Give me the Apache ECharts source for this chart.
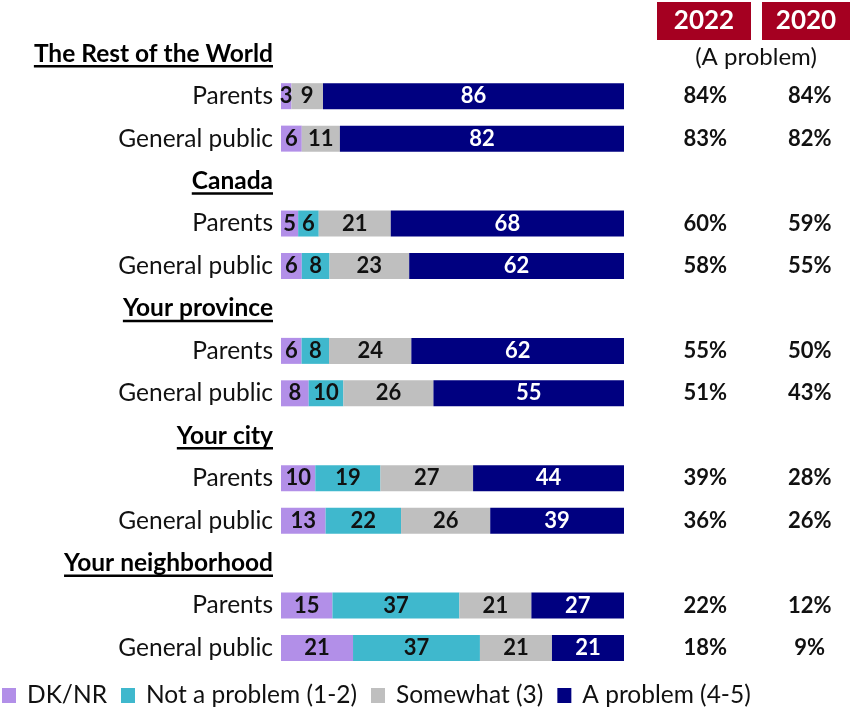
<!DOCTYPE html>
<html><head><meta charset="utf-8">
<script src="https://cdn.jsdelivr.net/npm/echarts@6/dist/echarts.min.js"></script>
<style>html,body{margin:0;padding:0;background:#fff}#chart{width:856px;height:713px}</style>
</head><body><div id="chart"></div>
<script>
// Survey groups, each with a "Parents" and a "General public" row
const groups = ['The Rest of the World', 'Canada', 'Your province', 'Your city', 'Your neighborhood'];
const audiences = ['Parents', 'General public'];

// Stacked shares (%) per row, in group order: Parents, General public
const dkNr       = [3, 6,   5, 6,   6, 8,   10, 13,  15, 21];
const notProblem = [0, 0,   6, 8,   8, 10,  19, 22,  37, 37];
const somewhat   = [9, 11,  21, 23, 24, 26, 27, 26,  21, 21];
const aProblem   = [86, 82, 68, 62, 62, 55, 44, 39,  27, 21];

// "A problem" share by survey year
const problem2022 = [84, 83, 60, 58, 55, 51, 39, 36, 22, 18];
const problem2020 = [84, 82, 59, 55, 50, 43, 28, 26, 12, 9];

const seriesNames = ['DK/NR', 'Not a problem (1-2)', 'Somewhat (3)', 'A problem (4-5)'];
const seriesColors = ['#b28fe8', '#3fb8cd', '#bfbfbf', '#000080'];
const yearHeaders = ['2022', '2020'];
const subHeader = '(A problem)';

const FONT = 'Lato, "Open Sans", sans-serif';

// Flatten into rows: a heading row followed by the two audience rows
const rows = [];
groups.forEach((g, gi) => {
  rows.push({ type: 'head', text: g });
  audiences.forEach((a, ai) => rows.push({ type: 'row', text: a, idx: gi * 2 + ai }));
});
const rowKeys = rows.map((r, i) => 'row' + i);

const valueSets = [dkNr, notProblem, somewhat, aProblem];

// 100% stacked: each row is scaled to its own total
function seriesData(values) {
  return rows.map(r => {
    if (r.type === 'head') return '-';
    const i = r.idx;
    const total = dkNr[i] + notProblem[i] + somewhat[i] + aProblem[i];
    return { value: values[i] / total * 100, raw: values[i] };
  });
}

const series = valueSets.map((vals, si) => ({
  name: seriesNames[si],
  type: 'bar',
  stack: 'total',
  barWidth: 26,
  itemStyle: { color: seriesColors[si] },
  data: seriesData(vals),
  label: {
    show: true,
    position: 'inside',
    fontFamily: FONT,
    fontWeight: 'bold',
    fontSize: 22,
    color: si === 3 ? '#ffffff' : '#111111',
    formatter: p => (p.data && p.data.raw > 0 ? String(p.data.raw) : '')
  },
  emphasis: { disabled: true }
}));

const chart = echarts.init(document.getElementById('chart'), null, { renderer: 'canvas' });

const gridLeft = 281, gridRight = 232, labelMargin = 8;
const LABEL_SIZE = 24.5;

chart.setOption({
  animation: false,
  grid: { left: gridLeft, right: gridRight, top: 32.5, bottom: 43.75, containLabel: false },
  xAxis: { type: 'value', min: 0, max: 100, show: false },
  yAxis: [
    {
      type: 'category', data: rowKeys, inverse: true,
      axisLine: { show: false }, axisTick: { show: false }, splitLine: { show: false },
      axisLabel: {
        margin: labelMargin,
        formatter: (v, i) => rows[i].type === 'head' ? '{h|' + rows[i].text + '}' : '{r|' + rows[i].text + '}',
        rich: {
          h: { fontFamily: FONT, fontWeight: 'bold', fontSize: LABEL_SIZE, color: '#000' },
          r: { fontFamily: FONT, fontSize: LABEL_SIZE, color: '#111' }
        }
      }
    },
    {
      type: 'category', data: rowKeys, inverse: true, position: 'right',
      axisLine: { show: false }, axisTick: { show: false }, splitLine: { show: false },
      axisLabel: {
        margin: 29,
        align: 'left',
        formatter: (v, i) => {
          const r = rows[i];
          if (r.type === 'head') return '';
          return '{a|' + problem2022[r.idx] + '%}{b|' + problem2020[r.idx] + '%}';
        },
        rich: {
          a: { width: 104.5, align: 'center', fontFamily: FONT, fontWeight: 'bold', fontSize: 22, color: '#111' },
          b: { width: 104.5, align: 'center', fontFamily: FONT, fontWeight: 'bold', fontSize: 22, color: '#111' }
        }
      }
    }
  ],
  legend: {
    left: 2, top: 683, padding: 0,
    itemWidth: 14, itemHeight: 15, itemGap: 14,
    icon: 'rect',
    selectedMode: false,
    data: seriesNames,
    textStyle: { fontFamily: FONT, fontSize: 24.5, color: '#111', padding: [0, 0, 0, 6] }
  },
  graphic: [
    { type: 'rect', shape: { x: 657, y: 2, width: 94, height: 38 }, style: { fill: '#a50021' } },
    { type: 'text', x: 704, y: 21, style: { text: yearHeaders[0], fill: '#fff', font: 'bold 26px ' + FONT, align: 'center', verticalAlign: 'middle' } },
    { type: 'rect', shape: { x: 762, y: 2, width: 88, height: 38 }, style: { fill: '#a50021' } },
    { type: 'text', x: 806, y: 21, style: { text: yearHeaders[1], fill: '#fff', font: 'bold 26px ' + FONT, align: 'center', verticalAlign: 'middle' } },
    { type: 'text', x: 756, y: 57, style: { text: subHeader, fill: '#111', font: '24px ' + FONT, align: 'center', verticalAlign: 'middle' } }
  ],
  series
});

// Underline the group headings, measured from the rendered label text
const ctx = document.createElement('canvas').getContext('2d');
ctx.font = 'bold ' + LABEL_SIZE + 'px ' + FONT;
const underlines = [];
rows.forEach((r, i) => {
  if (r.type !== 'head') return;
  const y = chart.convertToPixel({ yAxisIndex: 0 }, rowKeys[i]) + 12.5;
  const x2 = gridLeft - labelMargin;
  const w = ctx.measureText(r.text).width;
  underlines.push({ type: 'line', shape: { x1: x2 - w, y1: y, x2: x2, y2: y }, style: { stroke: '#000', lineWidth: 2.5 } });
});
chart.setOption({ graphic: chart.getOption().graphic[0].elements.concat(underlines) });
</script>
</body></html>
